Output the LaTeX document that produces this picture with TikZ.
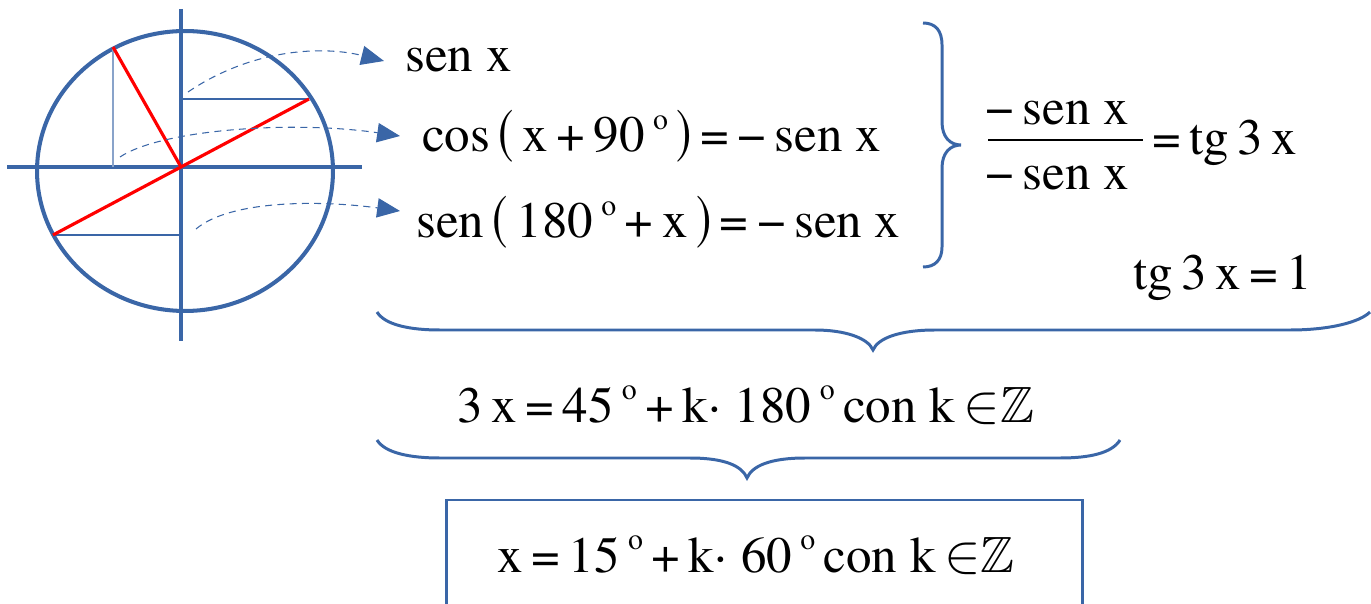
\documentclass[tikz,border=0pt]{standalone}
\usepackage{fontspec}
\setmainfont{TeX Gyre Termes}
\usepackage{amssymb}
\usepackage{graphicx}
\usetikzlibrary{arrows.meta}
\definecolor{bl}{HTML}{3A66A7}
\newcommand\dg{\raisebox{0.44em}{\fontsize{17}{17}\selectfont o}}
\newcommand\lpar{\scalebox{0.9}[1.2]{(}}
\newcommand\rpar{\scalebox{0.9}[1.2]{)}}
\newcommand\mn{−}
\newcommand\zz{\,\scalebox{1.25}{${\in}$}$\mathbb{Z}$}
\begin{document}
\begin{tikzpicture}[x=0.02cm,y=-0.02cm,
  eq/.style={anchor=base west, inner sep=0pt, font=\fontsize{29}{34}\selectfont},
  circ/.style={draw=bl, line width=2.3pt},
  axis/.style={draw=bl, line width=1.8pt},
  thin/.style={draw=bl, line width=0.6pt},
  radius/.style={draw=red, line width=1.8pt},
  darr/.style={draw=bl, line width=0.6pt, dash pattern=on 4pt off 3pt, -{Triangle[length=13pt,width=11pt,fill=bl]}},
  brace/.style={draw=bl, line width=1.7pt},
  box/.style={draw=bl, line width=1.7pt}]
\useasboundingbox (0,0) rectangle (1371,604);

% unit circle
\coordinate (O) at (181,167);
\draw[circ] (185,171) ellipse [x radius=2.96cm, y radius=2.8cm];
\draw[axis] (7,167) -- (362,167);
\draw[axis] (181,9) -- (181,341);
\coordinate (P1) at (113,47);
\coordinate (P2) at (309,99);
\coordinate (P3) at (53,235);
\draw[thin, draw=bl!60] (P1) -- (113,167);
\draw[thin] (182,99) -- (P2);
\draw[thin] (P3) -- (181,235);
\draw[radius] (P1) -- (O);
\draw[radius] (P2) -- (P3);

% equations
\node[eq] (e1) at (405,72) {sen x};
\node[eq] (e2) at (422,152) {cos\,\lpar\,x\,+\,90\,\dg\,\rpar\,=\,\mn\,sen x};
\node[eq] (e3) at (416,238) {sen\,\lpar\,180\,\dg\,+\,x\,\rpar\,=\,\mn\,sen x};

% dashed arrows
\coordinate (a1s) at (188,92);  \coordinate (a1e) at (384,61);
\coordinate (a2s) at (120,157); \coordinate (a2e) at (400,136);
\coordinate (a3s) at (196,229); \coordinate (a3e) at (400,211);
\draw[darr] (a1s) .. controls (250,50) and (320,45) .. (a1e);
\draw[darr] (a2s) .. controls (160,130) and (290,120) .. (a2e);
\draw[darr] (a3s) .. controls (230,200) and (320,200) .. (a3e);

% right brace
\draw[brace] (923,23) .. controls (935,23) and (942,30) .. (942,45) -- (942,122)
  .. controls (942,137) and (950,145) .. (961,145)
  .. controls (950,145) and (942,153) .. (942,168) -- (942,247)
  .. controls (942,260) and (935,267) .. (923,267);

% fraction
\node[eq] (num) at (985,125) {\mn\,sen x};
\node[eq] (den) at (985,190) {\mn\,sen x};
\draw[line width=1.6pt] (988,140) -- (1143,140);
\node[eq] (tg) at (1152,155) {=\,tg\,3\,x};
\node[eq] (tg1) at (1133,290) {tg\,3\,x\,=\,1};

% big brace
\draw[brace] (377,312) .. controls (385,325) and (410,330) .. (440,330) -- (815,330)
  .. controls (845,330) and (868,338) .. (873,350)
  .. controls (878,338) and (900,330) .. (935,330) -- (1290,330)
  .. controls (1330,330) and (1360,322) .. (1370,312);

\node[eq] (s1) at (457,422) {3\,x\,=\,45\,\dg\,+\,k·\;180\,\dg\,con k\zz};

% second brace
\draw[brace] (377,440) .. controls (385,453) and (410,458) .. (440,458) -- (690,458)
  .. controls (725,458) and (742,466) .. (747,478)
  .. controls (752,466) and (770,458) .. (805,458) -- (1060,458)
  .. controls (1090,458) and (1112,453) .. (1120,440);

% result box
\draw[box] (446,610) -- (446,500) -- (1082,500) -- (1082,610);
\node[eq] (s2) at (497,572) {x\,=\,15\,\dg\,+\,k·\;60\,\dg\,con k\zz};
\end{tikzpicture}
\end{document}
